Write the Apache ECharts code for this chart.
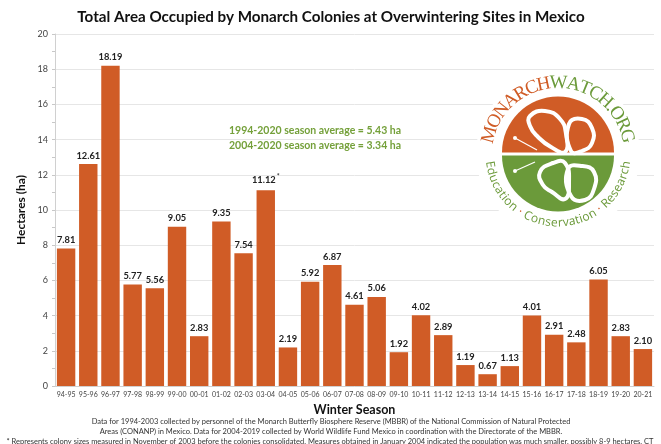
<!DOCTYPE html>
<html><head><meta charset="utf-8">
<script src="https://cdn.jsdelivr.net/npm/echarts@6/dist/echarts.min.js"></script>
<style>html,body{margin:0;padding:0;background:#fff}#c{width:661px;height:444px}</style>
</head><body><div id="c"></div>
<script>
const categories = ['94-95','95-96','96-97','97-98','98-99','99-00','00-01','01-02','02-03','03-04','04-05','05-06','06-07','07-08','08-09','09-10','10-11','11-12','12-13','13-14','14-15','15-16','16-17','17-18','18-19','19-20','20-21'];
const hectares = [7.81,12.61,18.19,5.77,5.56,9.05,2.83,9.35,7.54,11.12,2.19,5.92,6.87,4.61,5.06,1.92,4.02,2.89,1.19,0.67,1.13,4.01,2.91,2.48,6.05,2.83,2.10];
const starredIndex = [9];
const titleText = 'Total Area Occupied by Monarch Colonies at Overwintering Sites in Mexico';
const averageLines = ['1994-2020 season average = 5.43 ha','2004-2020 season average = 3.34 ha'];
const footLines = [
 'Data for 1994-2003 collected by personnel of the Monarch Butterfly Biosphere Reserve (MBBR) of the National Commission of Natural Protected',
 'Areas (CONANP) in Mexico. Data for 2004-2019 collected by World Wildlife Fund Mexico in coordination with the Directorate of the MBBR.',
 '* Represents colony sizes measured in November of 2003 before the colonies consolidated. Measures obtained in January 2004 indicated the population was much smaller, possibly 8-9 hectares. CT'
];
const logoTop = 'MONARCHWATCH.ORG';
const logoBottom = 'Education · Conservation · Research';

const ORANGE = '#d05c26', GREEN = '#6b9a3a', FONT = 'Lato';
const chart = echarts.init(document.getElementById('c'), null, {renderer:'canvas'});

// ---- logo construction ----
const cx = 558, cy = 154;
const g = [];
g.push({type:'circle', z:100, shape:{cx, cy, r:82}, style:{fill:'#fff'}});
g.push({type:'sector', z:101, shape:{cx, cy:cy-1.5, r:56, r0:0, startAngle:Math.PI, endAngle:2*Math.PI}, style:{fill:ORANGE}});
g.push({type:'sector', z:101, shape:{cx, cy:cy+1.5, r:56, r0:0, startAngle:0, endAngle:Math.PI}, style:{fill:GREEN}});
const lobes = [
 [[530,116],[545,111],[560,119],[566,134],[565,152],[551,147],[538,137],[530,126]],
 [[569,124],[582,119],[592,128],[592,143],[582,151],[571,151]],
 [[540,172],[553,163],[565,163],[569,183],[565,199],[552,192],[543,185]],
 [[568,169],[582,166],[594,172],[594,189],[585,200],[571,196]]
];
lobes.forEach(p => g.push({type:'polygon', z:102, shape:{points:p, smooth:0.5}, style:{fill:null, stroke:'#fff', lineWidth:4}}));
g.push({type:'line', z:102, shape:{x1:537,y1:150,x2:515,y2:138}, style:{stroke:'#fff', lineWidth:1.2}});
g.push({type:'line', z:102, shape:{x1:535,y1:162,x2:515,y2:171}, style:{stroke:'#fff', lineWidth:1.2}});
g.push({type:'circle', z:102, shape:{cx:515,cy:138,r:2}, style:{fill:'#fff'}});
g.push({type:'circle', z:102, shape:{cx:515,cy:171,r:2}, style:{fill:'#fff'}});

const cv = document.createElement('canvas').getContext('2d');
function ringText(str, font, r, a0, a1, top, colorFn){
  cv.font = font;
  const w = [...str].map(ch => cv.measureText(ch).width);
  const total = w.reduce((a,b)=>a+b,0);
  const span = Math.abs(a1-a0)*r;
  const gap = (span - total) / (str.length-1);
  let s = 0;
  [...str].forEach((ch,i)=>{
    const mid = s + w[i]/2;
    s += w[i] + gap;
    const t = mid / r;
    const th = top ? a0 - t : a0 + t;
    const x = cx + r*Math.cos(th), y = cy - r*Math.sin(th);
    const rot = top ? th - Math.PI/2 : th - 3*Math.PI/2;
    g.push({type:'text', z:103, x, y, rotation:rot, style:{text:ch, font, fill:colorFn(i,ch), align:'center', verticalAlign:'middle'}});
  });
}
ringText(logoTop, '19px "Liberation Serif"', 71, 171*Math.PI/180, 9*Math.PI/180, true, i => i<7 ? ORANGE : GREEN);
ringText(logoBottom, '12px "Open Sans"', 69, 186*Math.PI/180, 354*Math.PI/180, false, (i,ch) => ch==='·' ? ORANGE : GREEN);

// ---- text graphics ----
g.push({type:'text', z:50, x:331, y:17, style:{text:titleText, font:'bold 15.2px '+FONT, fill:'#111', align:'center', verticalAlign:'middle'}});
averageLines.forEach((t,i)=> g.push({type:'text', z:50, x:315, y:131+i*15, style:{text:t, font:'bold 10.5px '+FONT, fill:'#74a03a', align:'center', verticalAlign:'middle'}}));
footLines.forEach((t,i)=> g.push({type:'text', z:50, x:i===2?330:331, y:422+i*9.8, style:{text:t, font:'7.5px '+FONT, fill:'#333', align:'center', verticalAlign:'middle'}}));

chart.setOption({
  animation:false,
  backgroundColor:'#fff',
  grid:{left:55, right:7, top:34, bottom:58},
  xAxis:{type:'category', data:categories,
    name:'Winter Season', nameLocation:'middle', nameGap:17,
    nameTextStyle:{fontFamily:FONT, fontWeight:'bold', fontSize:12.5, color:'#111'},
    axisLine:{lineStyle:{color:'#d0d0d0'}}, axisTick:{show:false},
    axisLabel:{fontFamily:FONT, fontSize:7, color:'#444', margin:5, interval:0}},
  yAxis:{type:'value', min:0, max:20, interval:2,
    name:'Hectares (ha)', nameLocation:'middle', nameGap:24,
    nameTextStyle:{fontFamily:FONT, fontWeight:'bold', fontSize:12, color:'#111'},
    axisLine:{show:true, lineStyle:{color:'#d0d0d0'}},
    axisTick:{show:true, length:3, lineStyle:{color:'#c8c8c8'}},
    minorTick:{show:true, splitNumber:2, length:3, lineStyle:{color:'#c8c8c8'}},
    splitLine:{lineStyle:{color:'#e6e6e6'}},
    axisLabel:{fontFamily:FONT, fontSize:9, color:'#444', margin:7}},
  series:[{type:'bar', data:hectares, barCategoryGap:'17%',
    itemStyle:{color:ORANGE},
    label:{show:true, position:'top', distance:4,
      formatter: p => starredIndex.includes(p.dataIndex) ? '{v|'+p.value.toFixed(2)+'}{s|*}' : '{v|'+p.value.toFixed(2)+'}',
      rich:{v:{fontFamily:FONT, fontWeight:'bold', fontSize:9.3, color:'#222'},
            s:{fontFamily:FONT, fontSize:7, color:'#222', verticalAlign:'top', padding:[0,0,6,1]}}}}],
  graphic:{elements:g}
});
</script></body></html>
